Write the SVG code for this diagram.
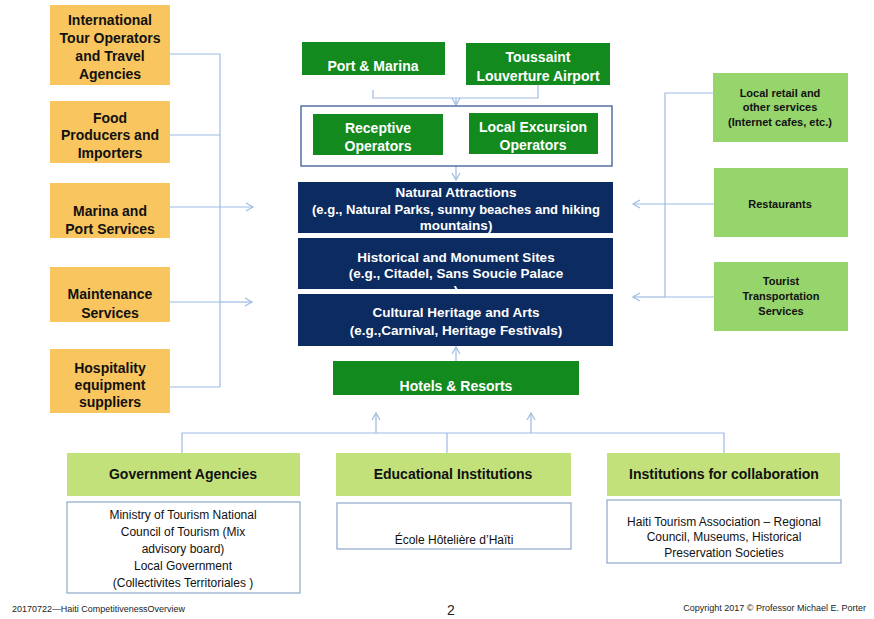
<svg xmlns="http://www.w3.org/2000/svg" width="874" height="619" viewBox="0 0 874 619">
<defs>
<style>
.or{fill:#F9C55E}
.dg{fill:#128A1E}
.nv{fill:#0C2B60}
.lg{fill:#96D46C}
.hd{fill:#C2E17A}
.wb{fill:#fff;stroke:#8EA7C9;stroke-width:1.2}
.ob{fill:#fff;stroke:#3B5A9A;stroke-width:1.3}
.t{font-family:"Liberation Sans",Arial,sans-serif;text-anchor:middle}
.b{font-weight:bold}
.k{fill:#111}
.w{fill:#fff}
.s14{font-size:14px}
.s13{font-size:13.5px}
.s12{font-size:12px}
.s11{font-size:11px}
.c{fill:none;stroke:#9DBBE3;stroke-width:1.2}
.ft{font-family:"Liberation Sans",Arial,sans-serif;fill:#222}
</style>
<marker id="ah" markerWidth="10" markerHeight="10" refX="8" refY="5" orient="auto" markerUnits="userSpaceOnUse">
<path d="M1,1 L8,5 L1,9" fill="none" stroke="#9DBBE3" stroke-width="1.2"/>
</marker>
</defs>
<rect width="874" height="619" fill="#fff"/>

<g id="connectors">
<path class="c" d="M170,54 H220 V387 M170,135 H220 M170,302 H220 M170,387 H220"/>
<path class="c" d="M170,207 H253" marker-end="url(#ah)"/>
<path class="c" d="M220,302 H252" marker-end="url(#ah)"/>
<path class="c" d="M373,90 V98 H538 V85"/>
<path class="c" d="M456,98 V105" marker-end="url(#ah)"/>
<path class="c" d="M456,166 V180" marker-end="url(#ah)"/>
<path class="c" d="M456,361 V347" marker-end="url(#ah)"/>
<path class="c" d="M713,93 H665 V297 H714"/>
<path class="c" d="M714,204 H633" marker-end="url(#ah)"/>
<path class="c" d="M665,297 H633" marker-end="url(#ah)"/>
<path class="c" d="M182,453 V433 H724 V453 M447,433 V453"/>
<path class="c" d="M376,433 V413" marker-end="url(#ah)"/>
<path class="c" d="M531,433 V413" marker-end="url(#ah)"/>
</g>

<g id="intl-tour">
<rect class="or" x="50" y="5" width="120" height="80"/>
<text class="t b k s14"><tspan x="110" y="25">International</tspan><tspan x="110" y="43">Tour Operators</tspan><tspan x="110" y="61">and Travel</tspan><tspan x="110" y="79">Agencies</tspan></text>
</g>
<g id="food">
<rect class="or" x="50" y="101" width="120" height="62"/>
<text class="t b k s14"><tspan x="110" y="123">Food</tspan><tspan x="110" y="140">Producers and</tspan><tspan x="110" y="158">Importers</tspan></text>
</g>
<g id="marina-port">
<rect class="or" x="50" y="183" width="120" height="55"/>
<text class="t b k s14"><tspan x="110" y="216">Marina and</tspan><tspan x="110" y="234">Port Services</tspan></text>
</g>
<g id="maintenance">
<rect class="or" x="50" y="267" width="120" height="55"/>
<text class="t b k s14"><tspan x="110" y="299">Maintenance</tspan><tspan x="110" y="318">Services</tspan></text>
</g>
<g id="hospitality">
<rect class="or" x="50" y="349" width="120" height="64"/>
<text class="t b k s14"><tspan x="110" y="373">Hospitality</tspan><tspan x="110" y="390">equipment</tspan><tspan x="110" y="407">suppliers</tspan></text>
</g>

<g id="port-marina">
<rect class="dg" x="302" y="42" width="143" height="33"/>
<text class="t b w s14" x="373" y="71">Port &amp; Marina</text>
</g>
<g id="airport">
<rect class="dg" x="466" y="43" width="144" height="42"/>
<text class="t b w s14"><tspan x="538" y="62">Toussaint</tspan><tspan x="538" y="81">Louverture Airport</tspan></text>
</g>
<g id="operators-group">
<rect class="ob" x="301" y="106" width="311" height="60"/>
</g>
<g id="receptive">
<rect class="dg" x="313" y="114" width="130" height="41"/>
<text class="t b w s14"><tspan x="378" y="133">Receptive</tspan><tspan x="378" y="151">Operators</tspan></text>
</g>
<g id="local-excursion">
<rect class="dg" x="469" y="113" width="129" height="41"/>
<text class="t b w s14"><tspan x="533" y="132">Local Excursion</tspan><tspan x="533" y="150">Operators</tspan></text>
</g>

<g id="natural">
<rect class="nv" x="298" y="182" width="315" height="51"/>
<text class="t b w s13"><tspan x="456" y="197">Natural Attractions</tspan><tspan x="456" y="214" textLength="288" lengthAdjust="spacingAndGlyphs">(e.g., Natural Parks, sunny beaches and hiking</tspan><tspan x="456" y="230">mountains)</tspan></text>
</g>
<g id="historical">
<rect class="nv" x="298" y="238" width="315" height="51"/>
<text class="t b w s13"><tspan x="456" y="262">Historical and Monument Sites</tspan><tspan x="456" y="278">(e.g., Citadel, Sans Soucie Palace</tspan><tspan x="456" y="295">)</tspan></text>
</g>
<g id="cultural">
<rect class="nv" x="298" y="294" width="315" height="52"/>
<text class="t b w s13"><tspan x="456" y="317">Cultural Heritage and Arts</tspan><tspan x="456" y="335">(e.g.,Carnival, Heritage Festivals)</tspan></text>
</g>
<g id="hotels">
<rect class="dg" x="333" y="361" width="246" height="34"/>
<text class="t b w s14" x="456" y="391">Hotels &amp; Resorts</text>
</g>

<g id="local-retail">
<rect class="lg" x="713" y="73" width="135" height="69"/>
<text class="t b k s11"><tspan x="780" y="97">Local retail and</tspan><tspan x="780" y="111">other services</tspan><tspan x="780" y="126">(Internet cafes, etc.)</tspan></text>
</g>
<g id="restaurants">
<rect class="lg" x="714" y="168" width="134" height="69"/>
<text class="t b k s11" x="780" y="208">Restaurants</text>
</g>
<g id="tourist-transport">
<rect class="lg" x="714" y="262" width="134" height="69"/>
<text class="t b k s11"><tspan x="781" y="285">Tourist</tspan><tspan x="781" y="300">Transportation</tspan><tspan x="781" y="315">Services</tspan></text>
</g>

<g id="government">
<rect class="hd" x="67" y="453" width="233" height="43"/>
<text class="t b k s14" x="183" y="479">Government Agencies</text>
<rect class="wb" x="67" y="502" width="233" height="91"/>
<text class="t k s12"><tspan x="183" y="519">Ministry of Tourism National</tspan><tspan x="183" y="536">Council of Tourism (Mix</tspan><tspan x="183" y="553">advisory board)</tspan><tspan x="183" y="570">Local Government</tspan><tspan x="183" y="587">(Collectivites Territoriales )</tspan></text>
</g>
<g id="educational">
<rect class="hd" x="336" y="453" width="235" height="43"/>
<text class="t b k s14" x="453" y="479">Educational Institutions</text>
<rect class="wb" x="337" y="503" width="234" height="46"/>
<text class="t k s12" x="454" y="544">École Hôtelière d’Haïti</text>
</g>
<g id="collaboration">
<rect class="hd" x="607" y="453" width="233" height="43"/>
<text class="t b k s14" x="724" y="479">Institutions for collaboration</text>
<rect class="wb" x="607" y="500" width="234" height="63"/>
<text class="t k s12"><tspan x="724" y="526">Haiti Tourism Association – Regional</tspan><tspan x="724" y="541">Council, Museums, Historical</tspan><tspan x="724" y="557">Preservation Societies</tspan></text>
</g>

<g id="footer">
<text class="ft" x="12" y="612" font-size="8.5" textLength="173" lengthAdjust="spacingAndGlyphs">20170722—Haiti CompetitivenessOverview</text>
<text class="ft" x="451" y="615" font-size="14" text-anchor="middle" fill="#111">2</text>
<text class="ft" x="866" y="611" font-size="9" text-anchor="end">Copyright 2017 © Professor Michael E. Porter</text>
</g>
</svg>
